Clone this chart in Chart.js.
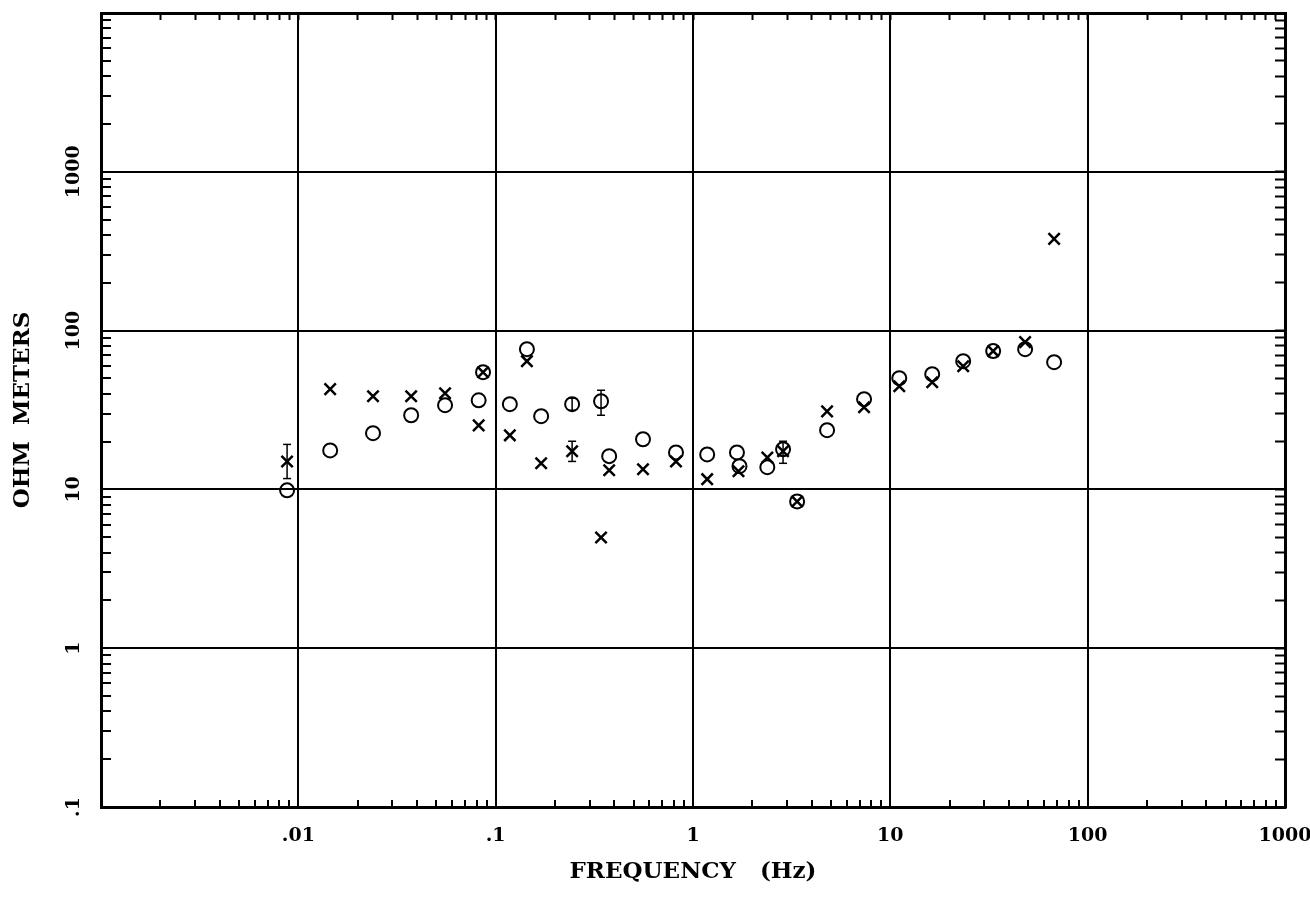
<!DOCTYPE html>
<html>
<head>
<meta charset="utf-8">
<script src="https://cdn.jsdelivr.net/npm/chart.js@4.4.1/dist/chart.umd.min.js"></script>
<style>
  html, body { margin: 0; padding: 0; background: #fff; }
  #wrap { width: 1310px; height: 902px; }
</style>
</head>
<body>
<div id="wrap"><canvas id="grafico"></canvas></div>
<script>
// apparent resistivity, circles (one mode) and crosses (the other)
const circleFreq = [0.00877, 0.0145, 0.0239, 0.0373, 0.0554, 0.0820, 0.0863, 0.118, 0.144, 0.170,
  0.244, 0.342, 0.376, 0.558, 0.82, 1.18, 1.67, 1.72, 2.38, 2.86,
  3.37, 4.78, 7.36, 11.1, 16.3, 23.4, 33.2, 48.2, 67.6];
const circleRho = [9.86, 17.6, 22.6, 29.3, 33.9, 36.4, 54.7, 34.4, 76.4, 28.9,
  34.4, 35.9, 16.2, 20.7, 17.1, 16.6, 17.1, 14.0, 13.8, 17.9,
  8.4, 23.6, 37.0, 50.2, 53.2, 64.2, 74.3, 76.4, 63.3];

const crossFreq = [0.00877, 0.0145, 0.0239, 0.0373, 0.0554, 0.0820, 0.0863, 0.118, 0.144, 0.170,
  0.244, 0.342, 0.376, 0.558, 0.82, 1.18, 1.70, 2.38, 2.86, 3.37,
  4.78, 7.36, 11.1, 16.3, 23.4, 33.2, 48.2, 67.6];
const crossRho = [15.0, 42.8, 38.6, 38.6, 40.3, 25.3, 54.7, 21.9, 64.2, 14.6,
  17.4, 4.98, 13.2, 13.4, 15.0, 11.6, 13.0, 15.9, 17.4, 8.4,
  31.0, 32.9, 44.6, 47.3, 59.7, 74.3, 84.6, 378];

// error bars
const barFreq = [0.00877, 0.244, 0.244, 0.342, 2.86];
const barLow = [11.7, 15.0, 31.5, 29.3, 14.6];
const barHigh = [19.2, 20.1, 37.5, 42.1, 20.1];

const xTickValues = [0.01, 0.1, 1, 10, 100, 1000];
const xTickLabels = ['.01', '.1', '1', '10', '100', '1000'];
const yTickValues = [0.1, 1, 10, 100, 1000];
const yTickLabels = ['.1', '1', '10', '100', '1000'];

function logTicks(minExp, maxExp) {
    const ticks = [];
    for (let e = minExp; e < maxExp; e++) {
        for (let m = 1; m < 10; m++) {
            ticks.push({ value: parseFloat((m * Math.pow(10, e)).toPrecision(3)) });
        }
    }
    ticks.push({ value: Math.pow(10, maxExp) });
    return ticks;
}

function isDecade(v) {
    const l = Math.log10(v);
    return Math.abs(l - Math.round(l)) < 1e-9;
}

function labelFor(values, labels) {
    return (value) => {
        const i = values.findIndex((v) => Math.abs(v - value) < v * 1e-6);
        return i < 0 ? '' : labels[i];
    };
}

const gridColor = (ctx) => (ctx.tick && isDecade(ctx.tick.value) ? '#000' : 'rgba(0,0,0,0)');
const tickFont = { family: 'DejaVu Serif', size: 19, weight: 'bold' };
const titleFont = { family: 'DejaVu Serif', size: 23, weight: 'bold', lineHeight: 1 };
const border = { display: true, color: '#000', width: 3 };

const datasets = [
    {
        label: 'circles',
        data: circleFreq.map((f, i) => ({ x: f, y: circleRho[i] })),
        pointStyle: 'circle',
        pointRadius: 7,
        pointBorderWidth: 2,
        borderColor: '#000',
        backgroundColor: 'rgba(0,0,0,0)',
    },
    {
        label: 'crosses',
        data: crossFreq.map((f, i) => ({ x: f, y: crossRho[i] })),
        pointStyle: 'crossRot',
        pointRadius: 8,
        pointBorderWidth: 2.5,
        borderColor: '#000',
        backgroundColor: '#000',
    },
];

barFreq.forEach((f, i) => {
    datasets.push({
        type: 'line',
        label: 'bar' + i,
        data: [{ x: f, y: barLow[i] }, { x: f, y: barHigh[i] }],
        showLine: true,
        borderColor: '#000',
        borderWidth: 1.5,
        pointStyle: 'line',
        pointRadius: 4,
        pointBorderWidth: 1.5,
        pointBorderColor: '#000',
    });
});

new Chart(document.getElementById('grafico').getContext('2d'), {
    type: 'scatter',
    data: { datasets: datasets },
    options: {
        responsive: true,
        maintainAspectRatio: false,
        devicePixelRatio: 1,
        animation: false,
        layout: { padding: 0 },
        plugins: {
            legend: { display: false },
            tooltip: { enabled: false },
        },
        scales: {
            x: {
                type: 'logarithmic',
                position: 'bottom',
                min: 0.001,
                max: 1000,
                afterBuildTicks: (s) => { s.ticks = logTicks(-3, 3); },
                afterFit: (s) => { s.height = 95; s.paddingLeft = 0; s.paddingRight = 0; },
                ticks: {
                    autoSkip: false,
                    minRotation: 0,
                    maxRotation: 0,
                    padding: 25,
                    color: '#000',
                    font: tickFont,
                    callback: labelFor(xTickValues, xTickLabels),
                },
                grid: { color: gridColor, lineWidth: 2, tickLength: -7, tickColor: '#000', tickWidth: 2 },
                border: border,
                title: {
                    display: true,
                    text: 'FREQUENCY   (Hz)',
                    color: '#000',
                    font: titleFont,
                    padding: { top: 0, bottom: 18 },
                },
            },
            y: {
                type: 'logarithmic',
                position: 'left',
                min: 0.1,
                max: 10000,
                afterBuildTicks: (s) => { s.ticks = logTicks(-1, 4); },
                afterFit: (s) => { s.width = 101; s.paddingTop = 0; s.paddingBottom = 0; },
                ticks: {
                    autoSkip: false,
                    minRotation: 90,
                    maxRotation: 90,
                    crossAlign: 'center',
                    padding: 10,
                    color: '#000',
                    font: tickFont,
                    callback: labelFor(yTickValues, yTickLabels),
                },
                grid: { color: gridColor, lineWidth: 2, tickLength: -10, tickColor: '#000', tickWidth: 2 },
                border: border,
                title: {
                    display: true,
                    text: 'OHM  METERS',
                    color: '#000',
                    font: titleFont,
                    padding: { top: 12, bottom: 0 },
                },
            },
            x2: {
                type: 'logarithmic',
                position: 'top',
                display: true,
                min: 0.001,
                max: 1000,
                afterBuildTicks: (s) => { s.ticks = logTicks(-3, 3); },
                afterFit: (s) => { s.height = 13; s.paddingLeft = 0; s.paddingRight = 0; },
                ticks: { display: false, autoSkip: false },
                grid: { drawOnChartArea: false, color: '#000', tickLength: -7, tickColor: '#000', tickWidth: 2 },
                border: border,
            },
            y2: {
                type: 'logarithmic',
                position: 'right',
                display: true,
                min: 0.1,
                max: 10000,
                afterBuildTicks: (s) => { s.ticks = logTicks(-1, 4); },
                afterFit: (s) => { s.width = 25; s.paddingTop = 0; s.paddingBottom = 0; },
                ticks: { display: false, autoSkip: false },
                grid: { drawOnChartArea: false, color: '#000', tickLength: -10, tickColor: '#000', tickWidth: 2 },
                border: border,
            },
        },
    },
});
</script>
</body>
</html>
